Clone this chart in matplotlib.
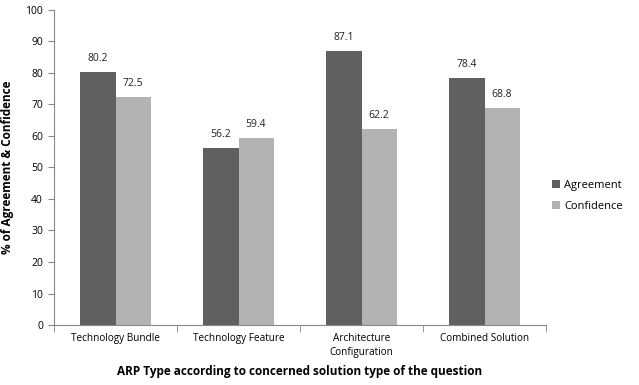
import matplotlib
matplotlib.use("Agg")
import matplotlib.pyplot as plt
import numpy as np

plt.rcParams['font.family'] = ['Open Sans', 'DejaVu Sans']

categories = ["Technology Bundle", "Technology Feature", "Architecture\nConfiguration", "Combined Solution"]
agreement = [80.2, 56.2, 87.1, 78.4]
confidence = [72.5, 59.4, 62.2, 68.8]

fig = plt.figure(figsize=(6.39, 3.85), dpi=100)
ax = fig.add_axes([54 / 639, 1 - 325 / 385, 492 / 639, 315 / 385])

x = np.arange(len(categories))
w = 0.285
b1 = ax.bar(x - w / 2, agreement, w, color="#606060", label="Agreement")
b2 = ax.bar(x + w / 2, confidence, w, color="#b3b3b3", label="Confidence")

for bars, vals in ((b1, agreement), (b2, confidence)):
    for r, v in zip(bars, vals):
        ax.text(r.get_x() + r.get_width() / 2, v + 2.5, f"{v:.1f}",
                ha="center", va="bottom", fontsize=7.5, color="#222222")

ax.set_xlim(-0.5, len(categories) - 0.5)
ax.set_ylim(0, 100)
ax.set_yticks(range(0, 101, 10))
ax.tick_params(axis="y", labelsize=7.5, length=4, color="#888888", pad=4)
ax.set_xticks(x)
ax.set_xticklabels(categories, fontsize=7.2, linespacing=1.3)
ax.tick_params(axis="x", length=0, pad=6)
ax.set_xticks(np.arange(-0.5, len(categories)), minor=True)
ax.tick_params(axis="x", which="minor", length=5, color="#888888")

for s in ("top", "right"):
    ax.spines[s].set_visible(False)
for s in ("left", "bottom"):
    ax.spines[s].set_color("#888888")

ax.set_ylabel("% of Agreement & Confidence", fontsize=8.5, fontweight="bold", labelpad=8)
ax.set_xlabel("ARP Type according to concerned solution type of the question",
              fontsize=8.5, fontweight="bold", labelpad=5)

fig.legend(handles=[b1, b2], loc="center left", bbox_to_anchor=(552 / 639, 1 - 196 / 385),
           frameon=False, fontsize=8, handlelength=0.7, handleheight=0.7,
           handletextpad=0.4, labelspacing=0.9, borderaxespad=0, borderpad=0)

fig.savefig("out.png", dpi=100)
